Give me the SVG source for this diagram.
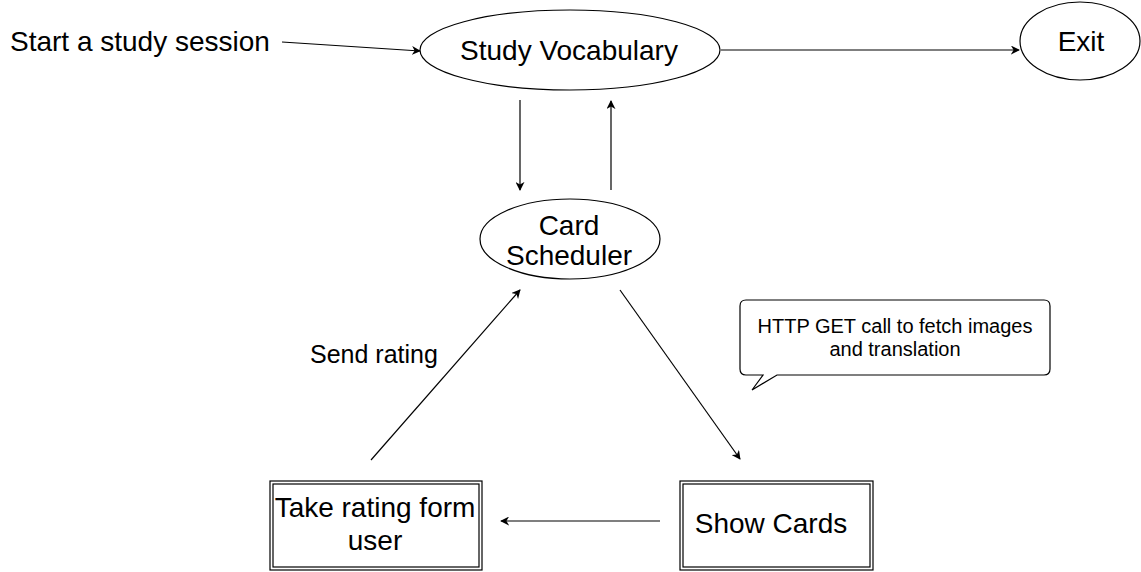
<svg xmlns="http://www.w3.org/2000/svg" width="1141" height="572" viewBox="0 0 1141 572">
<style>
.shape{fill:#fff;stroke:#000;stroke-width:1.2}
.edge{fill:none;stroke:#000;stroke-width:1.2}
text{font-family:"Liberation Sans",Arial,sans-serif;fill:#000}
.big{font-size:28px;text-anchor:middle}
</style>
<defs>
<marker id="arr" viewBox="0 0 10 10" refX="9" refY="5" markerWidth="9" markerHeight="9" markerUnits="userSpaceOnUse" orient="auto">
<path d="M0,0 L10,5 L0,10 L3,5 Z" fill="#000"/>
</marker>
</defs>
<rect width="1141" height="572" fill="#fff"/>
<g id="connectors">
<line class="edge" x1="282" y1="42" x2="420" y2="51" marker-end="url(#arr)"/>
<line class="edge" x1="721" y1="50" x2="1019" y2="50" marker-end="url(#arr)"/>
<line class="edge" x1="520" y1="100" x2="520" y2="190" marker-end="url(#arr)"/>
<line class="edge" x1="611" y1="190" x2="611" y2="101" marker-end="url(#arr)"/>
<line class="edge" x1="620" y1="290" x2="740" y2="459" marker-end="url(#arr)"/>
<line class="edge" x1="660" y1="521" x2="501" y2="521" marker-end="url(#arr)"/>
<line class="edge" x1="371" y1="460" x2="520" y2="290" marker-end="url(#arr)"/>
</g>
<g id="start-label">
<text x="10" y="51" font-size="28">Start a study session</text>
</g>
<g id="study-vocabulary">
<ellipse class="shape" cx="570" cy="50" rx="150" ry="40"/>
<text class="big" x="569" y="60">Study Vocabulary</text>
</g>
<g id="exit">
<ellipse class="shape" cx="1080" cy="41" rx="60" ry="39"/>
<text class="big" x="1081" y="51">Exit</text>
</g>
<g id="card-scheduler">
<ellipse class="shape" cx="570" cy="239" rx="90" ry="40"/>
<text class="big" x="569" y="235">Card</text>
<text class="big" x="569" y="265">Scheduler</text>
</g>
<g id="note">
<path class="shape" stroke-width="1.8" d="M746,300 H1044 Q1050,300 1050,306 V369 Q1050,375 1044,375 H777 L752,390 L763,375 H746 Q740,375 740,369 V306 Q740,300 746,300 Z"/>
<text x="895" y="333" font-size="20" text-anchor="middle">HTTP GET call to fetch images</text>
<text x="895" y="356" font-size="20" text-anchor="middle">and translation</text>
</g>
<g id="send-rating">
<text x="310" y="363" font-size="25">Send rating</text>
</g>
<g id="take-rating">
<rect class="shape" x="270" y="481" width="212" height="89"/>
<rect class="shape" x="273" y="484" width="206" height="83"/>
<text class="big" x="375" y="517">Take rating form</text>
<text class="big" x="375" y="550">user</text>
</g>
<g id="show-cards">
<rect class="shape" x="680" y="481" width="193" height="89"/>
<rect class="shape" x="683" y="484" width="187" height="83"/>
<text class="big" x="771" y="533">Show Cards</text>
</g>
</svg>
